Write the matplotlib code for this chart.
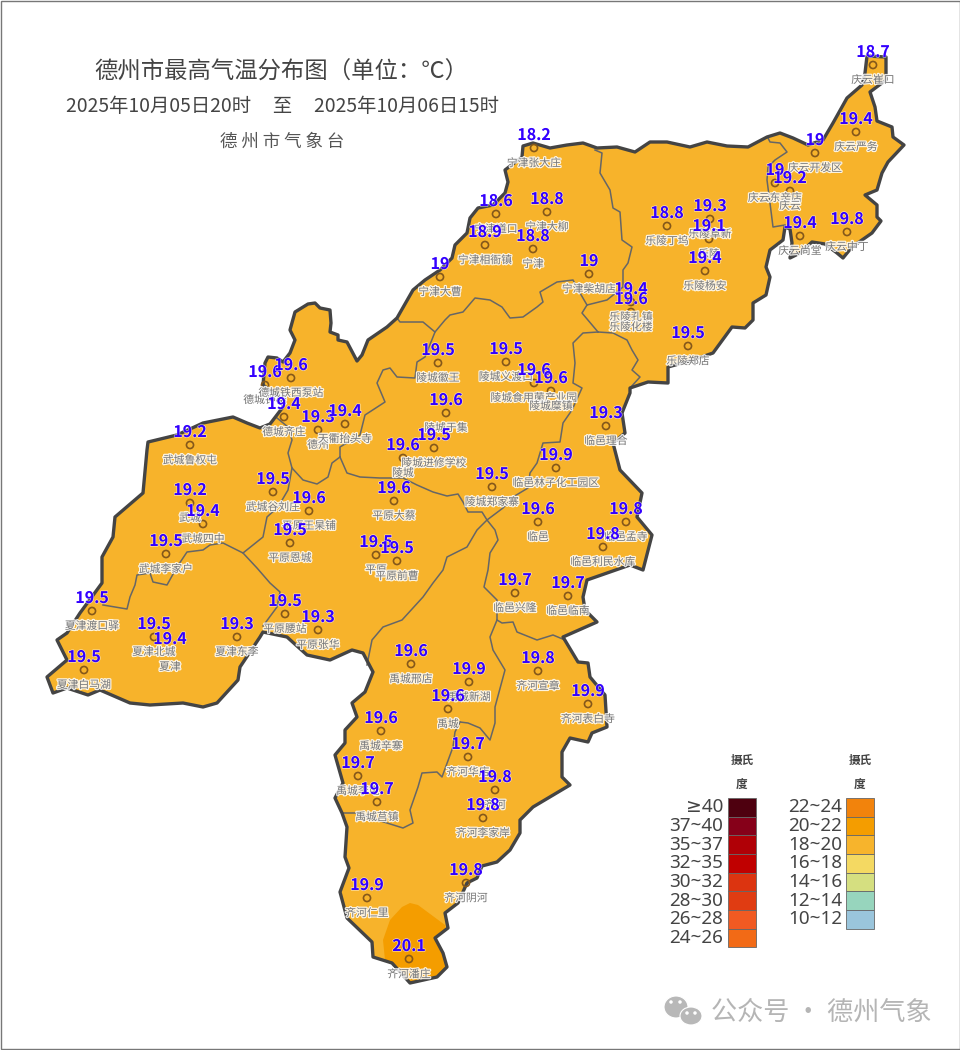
import matplotlib
matplotlib.use("Agg")
import matplotlib.pyplot as plt
import matplotlib.patheffects as pe
from matplotlib.patches import Polygon, Rectangle, Ellipse

plt.rcParams["font.family"] = ["Noto Sans CJK SC", "DejaVu Sans"]

# everything is traced in reference pixels
outline = [
    (523, 146), (533, 143), (550, 148), (567, 145), (583, 143), (597, 148), (617, 147), (635, 152),
    (650, 142), (667, 142), (690, 147), (707, 142), (727, 146), (748, 147), (767, 137), (780, 133),
    (793, 138), (808, 145), (823, 140), (833, 123), (847, 98), (862, 85), (865, 73), (867, 56),
    (886, 57), (886, 80), (870, 92), (875, 107), (877, 121), (892, 127), (893, 137), (904, 145),
    (888, 162), (882, 173), (877, 190), (865, 195), (877, 205), (877, 217), (881, 221), (872, 233),
    (852, 247), (843, 258), (837, 253), (825, 244), (812, 242), (800, 253), (790, 258), (792, 243),
    (790, 229), (785, 227), (783, 240), (770, 250), (766, 267), (770, 277), (766, 295), (753, 303),
    (753, 320), (745, 328), (732, 327), (713, 353), (693, 360), (668, 367), (668, 383), (648, 382),
    (630, 388), (630, 393), (622, 413), (625, 433), (613, 443), (620, 470), (642, 493), (637, 517),
    (652, 535), (643, 570), (630, 565), (587, 580), (583, 597), (585, 610), (597, 622), (563, 637),
    (578, 662), (588, 663), (590, 677), (605, 695), (607, 727), (592, 733), (588, 742), (570, 738),
    (562, 752), (562, 777), (570, 785), (533, 807), (520, 820), (520, 833), (510, 850), (497, 862),
    (482, 866), (477, 878), (467, 883), (458, 903), (445, 913), (448, 928), (435, 938), (443, 953),
    (447, 967), (437, 977), (410, 983), (392, 963), (373, 957), (372, 942), (347, 918), (340, 892),
    (349, 868), (345, 857), (347, 827), (342, 813), (335, 798), (343, 783), (335, 755), (345, 743),
    (345, 730), (357, 717), (352, 703), (365, 692), (373, 672), (363, 653), (352, 650), (330, 660),
    (307, 655), (287, 637), (263, 632), (260, 637), (240, 667), (238, 680), (217, 703), (203, 707),
    (183, 703), (150, 705), (130, 703), (100, 690), (88, 695), (67, 688), (53, 693), (47, 677),
    (67, 660), (57, 640), (67, 633), (80, 613), (102, 583), (102, 557), (113, 537), (115, 517),
    (143, 493), (147, 450), (148, 442), (177, 435), (203, 423), (233, 417), (247, 423), (260, 428),
    (270, 424), (283, 407), (285, 398), (272, 392), (263, 385), (265, 363), (268, 357), (277, 358),
    (283, 362), (290, 353), (295, 340), (290, 330), (295, 312), (308, 304), (315, 303), (320, 308),
    (330, 310), (331, 323), (330, 332), (338, 335), (338, 340), (347, 342), (357, 361), (362, 355),
    (368, 340), (387, 327), (397, 318), (413, 290), (425, 280), (440, 270), (452, 258), (455, 245),
    (467, 233), (470, 218), (478, 208), (493, 205), (505, 193), (508, 182), (505, 170), (522, 157),
]

# county borders
borders = [
    [(595, 150), (602, 153), (600, 173), (610, 190), (613, 208), (620, 212), (622, 240), (632, 247),
     (628, 263), (623, 270), (623, 287), (607, 300), (587, 305), (582, 313), (598, 332)],
    [(397, 318), (400, 322), (423, 322), (435, 332), (445, 320), (450, 315), (463, 312), (475, 298),
     (490, 300), (502, 307), (510, 318), (523, 317), (537, 307), (543, 302), (540, 292), (557, 282),
     (573, 280), (580, 293), (587, 305)],
    [(598, 332), (613, 333), (627, 340), (632, 350), (638, 360), (632, 370), (640, 377), (630, 388)],
    [(598, 332), (583, 333), (573, 343), (575, 363), (573, 383), (582, 388), (572, 410), (563, 423),
     (560, 442), (543, 443), (537, 463), (530, 473), (528, 488), (513, 497), (503, 508), (487, 520),
     (477, 530), (467, 547), (447, 557), (443, 570), (433, 583), (423, 597), (402, 620), (383, 627),
     (372, 640), (367, 665)],
    [(340, 457), (347, 473), (360, 477), (380, 478), (403, 478), (417, 485), (433, 492), (447, 496),
     (458, 494), (463, 502), (468, 512), (482, 512), (487, 520), (495, 530), (498, 540), (490, 553),
     (488, 570), (484, 587), (497, 600), (497, 620), (490, 637), (493, 650), (505, 670), (495, 707),
     (495, 723), (490, 740), (480, 728), (468, 723), (460, 722)],
    [(460, 722), (455, 732), (453, 747), (442, 777), (437, 772), (422, 773), (418, 787), (410, 810),
     (413, 823), (403, 828), (387, 823), (355, 813), (343, 813)],
    [(497, 620), (502, 623), (513, 622), (517, 632), (537, 640), (553, 635), (565, 640)],
    [(340, 457), (340, 447), (360, 435), (365, 415), (385, 402), (377, 383), (383, 370), (390, 368),
     (397, 377), (415, 378), (417, 362), (425, 357), (435, 332)],
    [(340, 457), (332, 463), (328, 477), (317, 484), (303, 480), (292, 468), (288, 453), (292, 440),
     (288, 427), (277, 418)],
    [(292, 468), (288, 490), (278, 507), (267, 517), (265, 527), (263, 537), (243, 553), (223, 543),
     (210, 545), (203, 550), (187, 552), (177, 567), (167, 585), (153, 582), (150, 573), (137, 575),
     (135, 585), (130, 597), (127, 609), (103, 605)],
    [(243, 553), (257, 568), (270, 583), (280, 592), (277, 607), (263, 626)],
    [(768, 138), (770, 142), (780, 143), (787, 152), (775, 160), (768, 167), (767, 180), (770, 203),
     (773, 227), (785, 225)],
]

warm_zone = [(385, 960), (383, 940), (390, 920), (402, 907), (410, 903), (418, 905), (445, 925),
             (455, 995), (385, 995)]

station_names = [
    "庆云崔口", "宁津张大庄", "宁津道口", "宁津大柳", "宁津", "宁津相衙镇", "宁津大曹", "宁津柴胡店",
    "乐陵孔镇", "乐陵化楼", "乐陵丁坞", "乐陵阜新", "乐陵", "乐陵杨安", "乐陵郑店",
    "庆云开发区", "庆云严务", "庆云东辛店", "庆云", "庆云尚堂", "庆云中丁",
    "陵城徽王", "陵城义渡口", "陵城食用菌产业园", "陵城糜镇", "陵城于集", "陵城进修学校", "陵城", "陵城郑家寨",
    "临邑理合", "临邑林子化工园区", "临邑", "临邑孟寺", "临邑利民水库", "临邑兴隆", "临邑临南",
    "德城钟楼", "德城铁西泵站", "德城齐庄", "德州", "天衢抬头寺",
    "武城鲁权屯", "武城", "武城四中", "武城李家户", "武城谷刘庄",
    "平原王杲铺", "平原恩城", "平原大蔡", "平原", "平原前曹", "平原腰站", "平原张华",
    "夏津渡口驿", "夏津北城", "夏津", "夏津东李", "夏津白马湖",
    "禹城邢店", "禹城新湖", "禹城", "禹城辛寨", "禹城李屯", "禹城莒镇",
    "齐河宣章", "齐河表白寺", "齐河华店", "齐河", "齐河李家岸", "齐河阴河", "齐河仁里", "齐河潘庄",
]
station_x = [
    873, 534, 496, 547, 533, 485, 440, 589,
    631, 631, 667, 710, 709, 705, 688,
    815, 856, 775, 790, 800, 847,
    438, 506, 534, 551, 446, 434, 403, 492,
    606, 556, 538, 626, 603, 515, 568,
    265, 291, 284, 318, 345,
    190, 190, 203, 166, 273,
    309, 290, 394, 376, 397, 285, 318,
    92, 154, 170, 237, 84,
    411, 469, 448, 381, 358, 377,
    538, 588, 468, 495, 483, 466, 367, 409,
]
station_y = [
    65, 148, 214, 212, 249, 245, 277, 274,
    302, 312, 226, 219, 239, 271, 346,
    153, 132, 183, 191, 236, 232,
    363, 362, 383, 391, 413, 448, 458, 487,
    426, 468, 522, 522, 547, 593, 596,
    385, 378, 417, 430, 424,
    445, 503, 524, 554, 492,
    511, 543, 501, 555, 561, 614, 630,
    611, 637, 652, 637, 670,
    664, 682, 709, 731, 776, 802,
    671, 704, 757, 790, 818, 883, 898, 959,
]
station_values = [
    18.7, 18.2, 18.6, 18.8, 18.8, 18.9, 19, 19,
    19.4, 19.6, 18.8, 19.3, 19.1, 19.4, 19.5,
    19, 19.4, 19, 19.2, 19.4, 19.8,
    19.5, 19.5, 19.6, 19.6, 19.6, 19.5, 19.6, 19.5,
    19.3, 19.9, 19.6, 19.8, 19.8, 19.7, 19.7,
    19.6, 19.6, 19.4, 19.3, 19.4,
    19.2, 19.2, 19.4, 19.5, 19.5,
    19.6, 19.5, 19.6, 19.5, 19.5, 19.5, 19.3,
    19.5, 19.5, 19.4, 19.3, 19.5,
    19.6, 19.9, 19.6, 19.6, 19.7, 19.7,
    19.8, 19.9, 19.7, 19.8, 19.8, 19.8, 19.9, 20.1,
]

legend_left = ["≥40", "37~40", "35~37", "32~35", "30~32", "28~30", "26~28", "24~26"]
colors_left = ["#4e000f", "#860019", "#b00006", "#c00000", "#dc3410", "#e03c12", "#f15a22", "#f26a16"]
legend_right = ["22~24", "20~22", "18~20", "16~18", "14~16", "12~14", "10~12"]
colors_right = ["#f2830c", "#f49d00", "#f7b42c", "#f4d962", "#d5df80", "#97d5bd", "#9ac5dc"]

fig = plt.figure(figsize=(9.6, 10.5), dpi=100)
ax = fig.add_axes([0, 0, 1, 1])
ax.set_xlim(0, 960)
ax.set_ylim(1050, 0)
ax.axis("off")

ax.add_patch(Rectangle((0.5, 0.5), 959, 1048, fc="white", ec="#777777", lw=1))

land = Polygon(outline, closed=True, fc="#f7b32b", ec="none", zorder=1)
ax.add_patch(land)
warm = Polygon(warm_zone, closed=True, fc="#f49d00", ec="none", zorder=2)
ax.add_patch(warm)
warm.set_clip_path(land)
for line in borders:
    ax.plot([p[0] for p in line], [p[1] for p in line], color="#666666", lw=1.1, zorder=3)
ax.add_patch(Polygon(outline, closed=True, fc="none", ec="#444444", lw=2.4, joinstyle="round", zorder=4))

ax.scatter(station_x, station_y, s=26, facecolors="none", edgecolors="#85581a", linewidths=1.2, zorder=5)

halo = [pe.withStroke(linewidth=1.8, foreground="white", alpha=0.85)]
for name, x, y in zip(station_names, station_x, station_y):
    ax.text(x, y + 15, name, fontsize=7.8, color="#777777", ha="center", va="center",
            path_effects=halo, zorder=6)
for value, x, y in zip(station_values, station_x, station_y):
    ax.text(x, y - 13, f"{value:g}", fontsize=11.5, color="#3300ff", ha="center", va="center",
            fontweight="bold", zorder=7,
            path_effects=[pe.withStroke(linewidth=1.0, foreground="white", alpha=0.6)])

ax.text(281, 72, "德州市最高气温分布图（单位：℃）", fontsize=16.8, color="#444444", ha="center", va="center")
ax.text(282, 107, "2025年10月05日20时     至     2025年10月06日15时", fontsize=13.9, color="#444444",
        ha="center", va="center")
ax.text(282, 142, "德 州 市 气 象 台", fontsize=12.6, color="#555555", ha="center", va="center")

# two legend columns
for labels, cols, box_x, text_x, head_x in [(legend_left, colors_left, 728, 723, 742),
                                            (legend_right, colors_right, 846, 842, 860)]:
    ax.text(head_x, 760, "摄氏", fontsize=8.4, color="#444444", fontweight="bold", ha="center", va="center")
    ax.text(head_x, 785, "度", fontsize=8.4, color="#444444", fontweight="bold", ha="center", va="center")
    for i, (lab, col) in enumerate(zip(labels, cols)):
        ax.add_patch(Rectangle((box_x, 798 + i * 18.65), 27.5, 18.65, fc=col, ec="#666666", lw=0.6))
        ax.text(text_x, 807.5 + i * 18.65, lab, fontsize=13.6, color="#444444", ha="right", va="center",
                family=["Noto Sans", "DejaVu Sans"])

# wechat watermark
ax.add_patch(Ellipse((676, 1007), 24, 22, fc="#b8b8b8", ec="white", lw=0.8))
ax.add_patch(Ellipse((691, 1016), 22, 18, fc="#b8b8b8", ec="white", lw=0.8))
for eye_x, eye_y in [(671, 1002), (680, 1002), (687, 1013), (695, 1013)]:
    ax.add_patch(Ellipse((eye_x, eye_y), 3.5, 3.5, fc="white", ec="none"))
ax.text(711, 1012, "公众号 · 德州气象", fontsize=18.8, color="#b5b5b5", ha="left", va="center")

fig.savefig("out.png", dpi=100)
